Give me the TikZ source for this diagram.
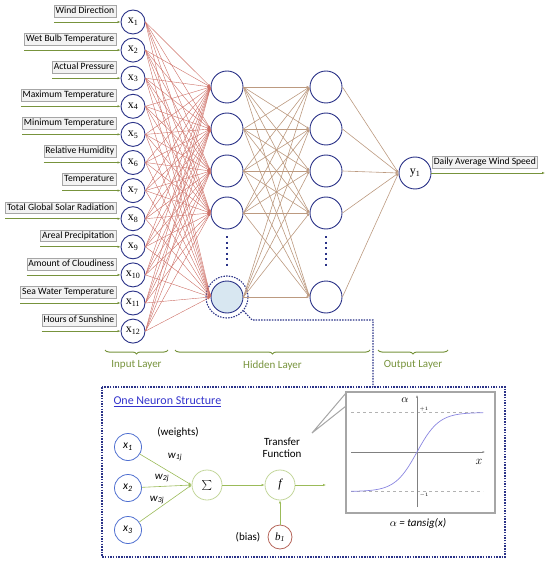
\documentclass[tikz,border=0pt]{standalone}
\usepackage{fontspec}
\setmainfont{Carlito}
\newfontfamily\timesfont{Liberation Serif}
\usetikzlibrary{arrows.meta,calc,positioning,decorations.pathreplacing}
\definecolor{navy}{HTML}{2B3388}
\definecolor{olive}{HTML}{77933C}
\definecolor{lightolive}{HTML}{9BBB59}
\definecolor{paleolive}{HTML}{C3D69B}
\definecolor{rust}{HTML}{CD6F66}
\definecolor{tanline}{HTML}{BC9A80}
\definecolor{boxgray}{HTML}{A6A6A6}
\definecolor{neuronblue}{HTML}{4F6FD0}
\definecolor{titleblue}{HTML}{3333CC}
\definecolor{curveblue}{HTML}{8A86E0}
\definecolor{shade}{HTML}{D8E7F1}
\definecolor{biasred}{HTML}{B5655A}

\begin{document}
\begin{tikzpicture}[x=1pt,y=-1pt,>={Latex[length=3pt,width=2.4pt]},
 every node/.style={font=\fontsize{9.6}{11}\selectfont},
 neuron/.style={circle,draw=navy,line width=0.9pt,fill=white,inner sep=0pt,minimum size=#1},
 feature/.style={draw=boxgray,fill=black!5,line width=0.4pt,inner sep=1.6pt,
  text height=6.8pt,text depth=1.8pt,anchor=south east},
 xlab/.style={font=\timesfont\fontsize{12}{12}\selectfont},
 layer/.style={olive,line width=1pt,decorate,decoration={brace,mirror,amplitude=4pt}},
 small/.style={font=\fontsize{11}{12}\selectfont},
 dotline/.style={navy,line width=1.1pt,dash pattern=on 1.5pt off 1.2pt},
 vdots/.style={navy,line width=2pt,dash pattern=on 2pt off 3.5pt}]
\useasboundingbox (0,0) rectangle (550,561);

\foreach \t [count=\i] in {Wind Direction,Wet Bulb Temperature,Actual Pressure,
  Maximum Temperature,Minimum Temperature,Relative Humidity,Temperature,
  Total Global Solar Radiation,Areal Precipitation,Amount of Cloudiness,
  Sea Water Temperature,Hours of Sunshine} {
 \pgfmathsetmacro\yy{22+28.1*(\i-1)}
 \node[neuron=24pt,xlab] (x\i) at (133,\yy) {x\textsubscript{\i}};
 \node[feature] (l\i) at (116,\yy-5) {\t};
 \draw[olive,->,line width=0.8pt] (l\i.west |- x\i.west) -- (x\i.west);
}

\foreach \y [count=\j] in {87,129,171,213} {
 \node[neuron=32pt] (h\j) at (227,\y) {};
 \node[neuron=32pt] (g\j) at (326,\y) {};
}
\node[neuron=32pt,fill=shade] (h5) at (227,297) {};
\node[neuron=32pt] (g5) at (326,297) {};
\node[neuron=32pt,xlab] (y) at (415,173) {y\textsubscript{1}};
\node[circle,draw,dotline,minimum size=42pt] (ring) at (h5) {};

\foreach \i in {1,...,12}
 \foreach \j in {1,...,5}
  \draw[rust,line width=0.4pt,->] (x\i.east) -- (h\j.west);
\foreach \i in {1,...,5} {
 \foreach \j in {1,...,5}
  \draw[tanline,line width=0.6pt,->] (h\i.east) -- (g\j.west);
 \draw[tanline,line width=0.6pt,->] (g\i.east) -- (y.west);
}
\draw[vdots] (227,236) -- (227,268);
\draw[vdots] (326,236) -- (326,268);

\node[feature,anchor=south west] (lo) at (432,168) {Daily Average Wind Speed};
\coordinate (yout) at (545,173);
\draw[olive,->,line width=0.8pt] (y.east) -- (yout);

\draw[layer] (105,350) -- (168,350) node[midway,below=7pt,text=olive,small] {Input Layer};
\draw[layer] (175,350) -- (370,350) node[midway,below=7pt,text=olive,small] {Hidden Layer};
\draw[layer] (378,350) -- (448,350) node[midway,below=7pt,text=olive,small] {Output Layer};

\coordinate (tap) at (373,387);
\draw[dotline] (ring.-40) -- (252,320) -| (tap);
\draw[dotline] (102,387) rectangle (505,557);
\node[anchor=west,text=titleblue,font=\fontsize{12}{13}\selectfont] (title) at (110,402)
 {\underline{One Neuron Structure}};

\foreach \y [count=\i] in {447,488,530}
 \node[circle,draw=neuronblue,line width=0.8pt,minimum size=27pt,inner sep=0pt,
  font=\fontsize{11.5}{12}\selectfont] (s\i) at (128,\y) {\textit{x}\textsubscript{\textit{\i}}};
\node[circle,draw=paleolive,line width=0.8pt,minimum size=30pt,inner sep=0pt] (sum) at (207,485) {$\sum$};
\node[circle,draw=paleolive,line width=0.8pt,minimum size=30pt,inner sep=0pt,
 font=\timesfont\itshape\fontsize{12}{12}\selectfont] (f) at (280,485) {f};
\node[circle,draw=biasred,line width=0.8pt,minimum size=24pt,inner sep=0pt,
 font=\timesfont\itshape\fontsize{11}{12}\selectfont] (b) at (280,537) {b\textsubscript{1}};
\foreach \i in {1,2,3}
 \draw[lightolive,->,line width=0.6pt] (s\i) -- (sum.west);
\coordinate (fout) at (326,485);
\draw[lightolive,->,line width=0.6pt] (sum) -- (f);
\draw[lightolive,->,line width=0.6pt] (f) -- (fout);
\draw[lightolive,->,line width=0.6pt] (b) -- (f);
\node[small] at (178,432) {(weights)};
\node[small] at (175,457) {\textit{w}\textsubscript{\textit{1j}}};
\node[small] at (162,478) {\textit{w}\textsubscript{\textit{2j}}};
\node[small] at (157,500) {\textit{w}\textsubscript{\textit{3j}}};
\node[small,align=center] at (282,448) {Transfer\\Function};
\node[small] at (248,537) {(bias)};

\draw[boxgray,line width=1.2pt] (346,392) rectangle (495,513);
\draw[boxgray,line width=1pt] (346,393) -- (312,433) -- (346,406);
\draw[gray!60,dashed,line width=0.4pt] (351,412) -- (483,412);
\draw[gray!60,dashed,line width=0.4pt] (351,491) -- (483,491);
\draw[gray,line width=0.7pt,-{Latex[length=2.5pt,width=2pt]}] (351,452) -- (485,452);
\draw[gray,line width=0.7pt,-{Latex[length=2.5pt,width=2pt]}] (417,507) -- (417,395);
\draw[curveblue,line width=0.7pt,domain=-66:66,samples=60,smooth]
 plot ({417+\x},{452-39.5*tanh(\x/22)});
\node[font=\fontsize{11}{12}\selectfont] at (405,400) {$\alpha$};
\node[font=\fontsize{5}{6}\selectfont] at (424,409) {$+1$};
\node[font=\fontsize{5}{6}\selectfont] at (424,495) {$-1$};
\node[font=\fontsize{12}{12}\selectfont] at (479,462) {$x$};
\node[small] at (418,523) {$\alpha$\textit{ = tansig(x)}};
\end{tikzpicture}
\end{document}
